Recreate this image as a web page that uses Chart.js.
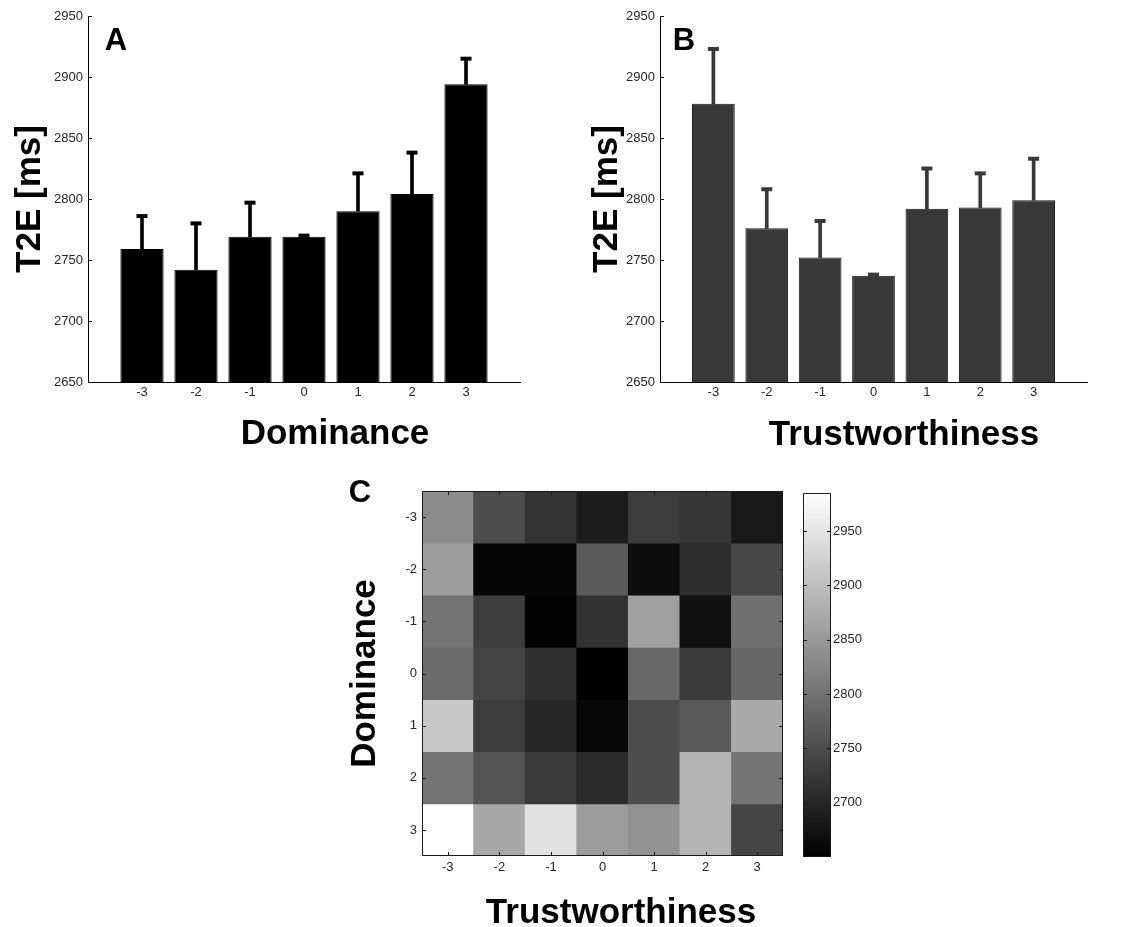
<!DOCTYPE html>
<html>
<head>
<meta charset="utf-8">
<title>T2E by Dominance and Trustworthiness</title>
<script src="https://cdn.jsdelivr.net/npm/chart.js@4.4.1/dist/chart.umd.min.js"></script>
<style>
  html, body { margin: 0; padding: 0; background: #fff; }
  #page { position: relative; width: 1125px; height: 927px; overflow: hidden; }
  canvas { position: absolute; }
</style>
</head>
<body>
<div id="page">
  <canvas id="chartA" width="560" height="455" style="left:0;top:0"></canvas>
  <canvas id="chartB" width="565" height="455" style="left:560px;top:0"></canvas>
  <canvas id="chartC" width="460" height="467" style="left:340px;top:460px"></canvas>
  <canvas id="chartBar" width="100" height="420" style="left:790px;top:460px"></canvas>
</div>
<script>
// ============================================================
// DATA
// ============================================================

const levels = [-3, -2, -1, 0, 1, 2, 3];

// A: mean T2E per dominance level + upper error bar (ms)
const domMeans = [2759, 2742, 2769, 2769, 2790, 2804, 2894];
const domSem = [27, 38, 28, 1, 31, 34, 21];

// B: mean T2E per trustworthiness level + upper error bar (ms)
const trustMeans = [2878, 2776, 2752, 2737, 2792, 2793, 2799];
const trustSem = [45, 32, 30, 1, 33, 28, 34];

// C: rows = dominance -3..3, columns = trustworthiness -3..3
const heat = [
  [2834, 2750, 2717, 2687, 2729, 2721, 2682],
  [2855, 2657, 2657, 2768, 2666, 2710, 2745],
  [2802, 2731, 2654, 2716, 2860, 2672, 2797],
  [2792, 2739, 2713, 2650, 2787, 2726, 2784],
  [2913, 2729, 2700, 2661, 2750, 2768, 2873],
  [2802, 2760, 2726, 2705, 2752, 2886, 2802],
  [2985, 2871, 2947, 2855, 2842, 2886, 2739],
];

const t2eMin = 2650;
const t2eMax = 2950;
const cbMin = 2650;
const cbMax = 2985;
const cbTicks = [2700, 2750, 2800, 2850, 2900, 2950];

// ============================================================
// HELPERS
// ============================================================

const FONT = '"Liberation Sans", Arial, Helvetica, sans-serif';
const TICK_FONT = { family: FONT, size: 13 };
const TICK_COLOR = "#262626";
const TITLE_FONT = { family: FONT, size: 35, weight: "bold" };
const NO_GRID = { display: false, drawTicks: false };

const fixWidth = (w) => (s) => { s.width = w; };
const fixHeight = (h) => (s) => { s.height = h; };

function gray(v) {
  const t = Math.max(0, Math.min(1, (v - cbMin) / (cbMax - cbMin)));
  const g = Math.round(t * 255);
  return `rgb(${g},${g},${g})`;
}

function grayRamp(c) {
  const chart = c.chart;
  if (!chart.chartArea) return "#808080";
  const y = chart.scales.y;
  const g = chart.ctx.createLinearGradient(0, y.getPixelForValue(cbMin), 0, y.getPixelForValue(cbMax));
  g.addColorStop(0, "#000");
  g.addColorStop(1, "#fff");
  return g;
}

// matlab style ticks pointing into the axes, optional full box
const inwardTicks = {
  id: "inwardTicks",
  afterDatasetsDraw(chart, args, opts) {
    const { ctx, chartArea: a, scales } = chart;
    const len = 4;
    ctx.save();
    ctx.strokeStyle = "#1a1a1a";
    ctx.lineWidth = 1;
    ctx.beginPath();
    if (opts.y) {
      scales.y.ticks.forEach((t, i) => {
        const py = Math.round(scales.y.getPixelForTick(i)) + 0.5;
        ctx.moveTo(a.left, py); ctx.lineTo(a.left + len, py);
        if (opts.box) { ctx.moveTo(a.right, py); ctx.lineTo(a.right - len, py); }
      });
    }
    if (opts.x) {
      scales.x.ticks.forEach((t, i) => {
        const px = Math.round(scales.x.getPixelForTick(i)) + 0.5;
        ctx.moveTo(px, a.bottom); ctx.lineTo(px, a.bottom - len);
        if (opts.box) { ctx.moveTo(px, a.top); ctx.lineTo(px, a.top + len); }
      });
    }
    if (opts.box) ctx.rect(Math.round(a.left) + 0.5, Math.round(a.top) + 0.5, Math.round(a.width) - 1, Math.round(a.height) - 1);
    ctx.stroke();
    ctx.restore();
  },
};

// panel letters and x axis labels (placed like the figure, not centred on the axis)
function panelText(items) {
  return {
    id: "panelText",
    afterDraw(chart) {
      const ctx = chart.ctx;
      ctx.save();
      ctx.fillStyle = "#000";
      ctx.textAlign = "center";
      ctx.textBaseline = "alphabetic";
      items.forEach((t) => {
        ctx.font = `bold ${t.size}px ${FONT}`;
        ctx.fillText(t.text, t.x, t.y);
      });
      ctx.restore();
    },
  };
}

// ============================================================
// A / B : bar charts with upper error bars
// ============================================================

function barPanel(id, means, sem, color, edge, axisW, rightPad, titlePad, texts) {
  new Chart(document.getElementById(id), {
    type: "bar",
    data: {
      datasets: [
        {
          data: levels.map((x, i) => ({ x, y: means[i] })),
          backgroundColor: color,
          borderColor: edge,
          borderWidth: 1,
          borderSkipped: false,
          barPercentage: 0.8,
          categoryPercentage: 1,
          order: 2,
        },
        {
          data: levels.map((x, i) => ({ x, y: [means[i], means[i] + sem[i]] })),
          backgroundColor: color,
          borderWidth: 0,
          barThickness: 3,
          maxBarThickness: 3,
          grouped: false,
          order: 3,
        },
        {
          type: "line",
          data: levels.map((x, i) => ({ x, y: means[i] + sem[i] })),
          showLine: false,
          pointStyle: "line",
          pointRadius: 5.5,
          pointBorderWidth: 4,
          pointBorderColor: color,
          order: 1,
        },
      ],
    },
    options: {
      responsive: false,
      animation: false,
      events: [],
      layout: { padding: { top: 16, right: rightPad, left: 0, bottom: 0 } },
      plugins: { legend: { display: false }, tooltip: { enabled: false }, inwardTicks: { y: true } },
      scales: {
        x: {
          type: "linear",
          min: -4,
          max: 4,
          offset: false,
          afterBuildTicks: (s) => { s.ticks = levels.map((v) => ({ value: v })); },
          afterFit: fixHeight(73),
          grid: NO_GRID,
          border: { display: true, color: "#000" },
          ticks: { font: TICK_FONT, color: TICK_COLOR, padding: 3, maxRotation: 0, autoSkip: false, callback: (v) => String(v) },
        },
        y: {
          min: t2eMin,
          max: t2eMax,
          afterFit: fixWidth(axisW),
          grid: NO_GRID,
          border: { display: true, color: "#000" },
          ticks: { stepSize: 50, font: TICK_FONT, color: TICK_COLOR, padding: 5, callback: (v) => String(v) },
          title: { display: true, text: "T2E [ms]", color: "#000", font: TITLE_FONT, padding: { top: titlePad, bottom: 0 } },
        },
      },
    },
    plugins: [inwardTicks, panelText(texts)],
  });
}

barPanel("chartA", domMeans, domSem, "#000", "#000", 88, 40, 9, [
  { text: "A", x: 116, y: 50, size: 31 },
  { text: "Dominance", x: 335, y: 444, size: 35 },
]);

barPanel("chartB", trustMeans, trustSem, "#383838", "#141414", 100, 38, 26, [
  { text: "B", x: 124, y: 50, size: 31 },
  { text: "Trustworthiness", x: 344, y: 445, size: 35 },
]);

// ============================================================
// C : heat map (one stacked bar segment per cell) + colour bar
// ============================================================

new Chart(document.getElementById("chartC"), {
  type: "bar",
  data: {
    labels: levels.map(String),
    datasets: heat.map((row, r) => ({
      label: "Dominance " + levels[r],
      data: row.map(() => 1),
      backgroundColor: row.map(gray),
      borderWidth: 0,
      barPercentage: 1,
      categoryPercentage: 1,
    })),
  },
  options: {
    responsive: false,
    animation: false,
    events: [],
    layout: { padding: { top: 31, right: 17, left: 0, bottom: 0 } },
    plugins: { legend: { display: false }, tooltip: { enabled: false }, inwardTicks: { x: true, y: true, box: true } },
    scales: {
      x: {
        stacked: true,
        afterFit: fixHeight(71),
        grid: NO_GRID,
        border: { display: false },
        ticks: { font: TICK_FONT, color: TICK_COLOR, padding: 4, maxRotation: 0, autoSkip: false },
      },
      y: {
        stacked: true,
        min: 0,
        max: 7,
        reverse: true,
        afterBuildTicks: (s) => { s.ticks = levels.map((v, i) => ({ value: i + 0.5 })); },
        afterFit: fixWidth(82),
        grid: NO_GRID,
        border: { display: false },
        ticks: { font: TICK_FONT, color: TICK_COLOR, padding: 5, callback: (v, i) => String(levels[i]) },
        title: { display: true, text: "Dominance", color: "#000", font: TITLE_FONT, padding: { top: 4, bottom: 0 } },
      },
    },
  },
  plugins: [inwardTicks, panelText([
    { text: "C", x: 20, y: 42, size: 31 },
    { text: "Trustworthiness", x: 281, y: 463, size: 35 },
  ])],
});

new Chart(document.getElementById("chartBar"), {
  type: "bar",
  data: {
    labels: ["T2E"],
    datasets: [{ data: [[cbMin, cbMax]], backgroundColor: grayRamp, borderWidth: 0, barPercentage: 1, categoryPercentage: 1 }],
  },
  options: {
    responsive: false,
    animation: false,
    events: [],
    layout: { padding: { top: 33, right: 0, left: 13, bottom: 23 } },
    plugins: { legend: { display: false }, tooltip: { enabled: false }, inwardTicks: { y: true, box: true } },
    scales: {
      x: { display: false },
      y: {
        position: "right",
        min: cbMin,
        max: cbMax,
        afterBuildTicks: (s) => { s.ticks = cbTicks.map((v) => ({ value: v })); },
        afterFit: fixWidth(59),
        grid: NO_GRID,
        border: { display: false },
        ticks: { font: TICK_FONT, color: TICK_COLOR, padding: 2, callback: (v) => String(v) },
      },
    },
  },
  plugins: [inwardTicks],
});
</script>
</body>
</html>
